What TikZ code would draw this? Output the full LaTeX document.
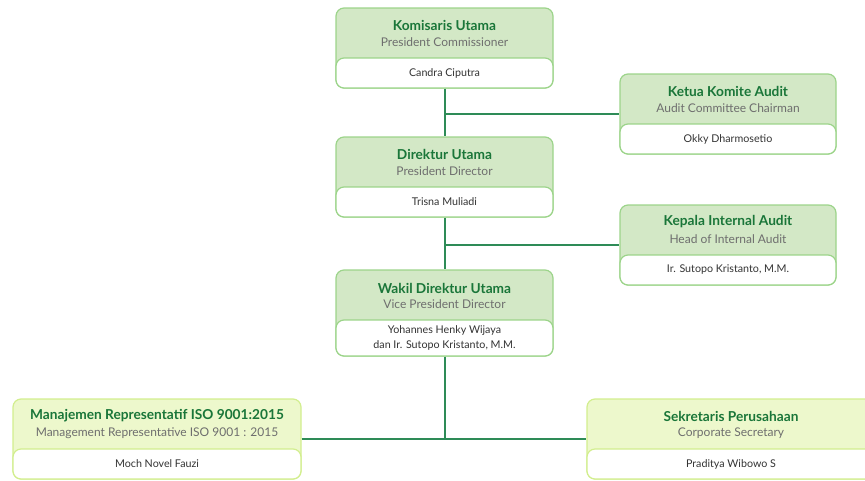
\documentclass[tikz,border=0pt]{standalone}
\usepackage{fontspec}
\setmainfont{Lato}
\usetikzlibrary{positioning}
\definecolor{headgreen}{HTML}{D3E8C6}
\definecolor{headline}{HTML}{9CD48A}
\definecolor{limefill}{HTML}{EDF8CC}
\definecolor{limeline}{HTML}{D2EE8E}
\definecolor{linkgreen}{HTML}{2E8B57}
\definecolor{titlegreen}{HTML}{1A7639}
\definecolor{subgray}{HTML}{6E6E6E}
\definecolor{namegray}{HTML}{333333}
\tikzset{
  headbox/.style={draw=headline, fill=headgreen, line width=1.2pt, rounded corners=8pt, minimum height=80pt, inner sep=0pt},
  namebox/.style={draw=headline, fill=white, line width=1.2pt, rounded corners=8pt, minimum height=30pt, inner sep=0pt,
    font=\fontsize{10.7}{15}\selectfont, text=namegray, align=center},
  limebox/.style={draw=limeline, fill=limefill},
  unittitle/.style={font=\bfseries\fontsize{13.7}{16}\selectfont, text=titlegreen, inner sep=0pt},
  unitsub/.style={font=\fontsize{12}{14}\selectfont, text=subgray, inner sep=0pt},
  link/.style={draw=linkgreen, line width=2pt},
}
% #1 name, #2 centre x, #3 top y, #4 width, #5 title, #6 subtitle, #7 person, #8 extra style
\newcommand{\orgunit}[8]{%
  \node[headbox, minimum width=#4pt, #8] (#1) at (#2,#3+40) {};
  \node[namebox, minimum width=#4pt, #8, fill=white] (#1-name) at (#2,#3+65) {#7};
  \node[unittitle] (#1-title) at (#2,#3+17) {#5};
  \node[unitsub] (#1-sub) at (#2,#3+34) {#6};
}
\begin{document}
\begin{tikzpicture}[x=1pt,y=-1pt]
\useasboundingbox (0,0) rectangle (865,480);
\begin{scope}
\clip (0,0) rectangle (865,480);
\orgunit{kom}{444.5}{8}{217}{Komisaris Utama}{President Commissioner}{Candra Ciputra}{}
\orgunit{ket}{728}{74}{216}{Ketua Komite Audit}{Audit Committee Chairman}{Okky Dharmosetio}{}
\orgunit{dir}{444.5}{137}{217}{Direktur Utama}{President Director}{Trisna Muliadi}{}
\orgunit{kep}{728}{205}{216}{Kepala Internal Audit}{Head of Internal Audit}{Ir. Sutopo Kristanto, M.M.}{}
% wakil is taller
\node[headbox, minimum width=217pt, minimum height=86pt] (wak) at (444.5,313) {};
\node[namebox, minimum width=217pt, minimum height=36pt] (wak-name) at (444.5,338) {Yohannes Henky Wijaya\\dan Ir. Sutopo Kristanto, M.M.};
\node[unittitle] (wak-title) at (444.5,288) {Wakil Direktur Utama};
\node[unitsub] (wak-sub) at (444.5,304) {Vice President Director};
\orgunit{man}{157}{399}{288}{Manajemen Representatif ISO 9001:2015}{Management Representative ISO 9001 : 2015}{Moch Novel Fauzi}{limebox}
\orgunit{sek}{731}{399}{288}{Sekretaris Perusahaan}{Corporate Secretary}{Praditya Wibowo S}{limebox}
% connectors
\draw[link] (kom-name.south) -- (dir.north);
\draw[link] (dir-name.south) -- (wak.north);
\draw[link] (kom-name.south |- ket.west) -- (ket.west);
\draw[link] (dir-name.south |- kep.west) -- (kep.west);
\draw[link] (wak-name.south) -- (wak-name.south |- man.east);
\draw[link] (man.east) -- (sek.west);
\end{scope}
\end{tikzpicture}
\end{document}
